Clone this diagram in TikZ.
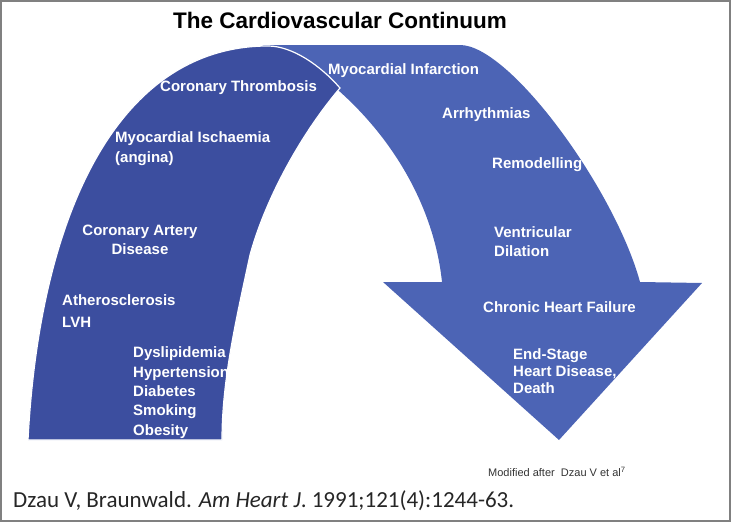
\documentclass[tikz,border=0pt]{standalone}
\usepackage{fontspec}
\setmainfont{Liberation Sans}
\newfontfamily\citefont{Carlito}
\definecolor{arcdark}{RGB}{60,78,159}
\definecolor{arclight}{RGB}{76,100,181}
\definecolor{framegray}{RGB}{128,128,128}

\begin{document}
\begin{tikzpicture}[x=1pt, y=-1pt,
    every node/.style={inner sep=0pt},
    stage/.style={text=white, font=\bfseries\fontsize{15}{19.3}\selectfont, anchor=base west, align=left}]
    % Frame
    \useasboundingbox (0,0) rectangle (731,522);
    \draw[framegray, line width=2pt] (1,1) rectangle (730,521);
    % Title
    \node[font=\bfseries\fontsize{22.5}{26}\selectfont, anchor=base] (title) at (340,28) {The Cardiovascular Continuum};
    % Right arch with arrow head
    \fill[arclight] (262,45) -- (460,45) .. controls (510,45) and (615,190) .. (640,282)
        -- (702,283) -- (559,440) -- (383,282) -- (442,282)
        .. controls (435,215) and (400,145) .. (338,90) -- cycle;
    % Left arch
    \filldraw[fill=arcdark, draw=white, line width=1.2pt] (28,440) .. controls (40,210) and (120,46) .. (268,46)
        .. controls (292,46) and (320,65) .. (340,88)
        .. controls (300,135) and (265,200) .. (250,255)
        .. controls (236,320) and (222,380) .. (222,440) -- cycle;
    % Stages on the left arch (base = last line)
    \node[stage] (thromb) at (160,91) {Coronary Thrombosis};
    \node[stage] (ischaemia) at (115,162) {Myocardial Ischaemia\\(angina)};
    \node[stage, align=center, anchor=base] (cad) at (140,254) {Coronary Artery\\[-1pt]Disease};
    \node[stage] (athero) at (62,327) {Atherosclerosis\\[2pt]LVH};
    \node[stage] (risks) at (133,435) {Dyslipidemia\\Hypertension\\Diabetes\\Smoking\\Obesity};
    % Stages on the right arch
    \node[stage] (infarct) at (328,74) {Myocardial Infarction};
    \node[stage] (arrhyth) at (442,118) {Arrhythmias};
    \node[stage] (remodel) at (492,168) {Remodelling};
    \node[stage] (dilation) at (494,256) {Ventricular\\[-1pt]Dilation};
    \node[stage] (chf) at (483,312) {Chronic Heart Failure};
    \node[stage] (endstage) at (513,393) {End-Stage\\[-2pt]Heart Disease,\\[-3pt]Death};
    % Sources
    \node[font=\fontsize{11}{13}\selectfont, anchor=base west, text=black!80] (modnote) at (488,476) {Modified after\ \ Dzau V et al\textsuperscript{7}};
    \node[font=\citefont\fontsize{23}{27}\selectfont, anchor=base west, text=black!85] (cite) at (13,507) {Dzau V, Braunwald. \textit{Am Heart J}. 1991;121(4):1244-63.};
\end{tikzpicture}
\end{document}
